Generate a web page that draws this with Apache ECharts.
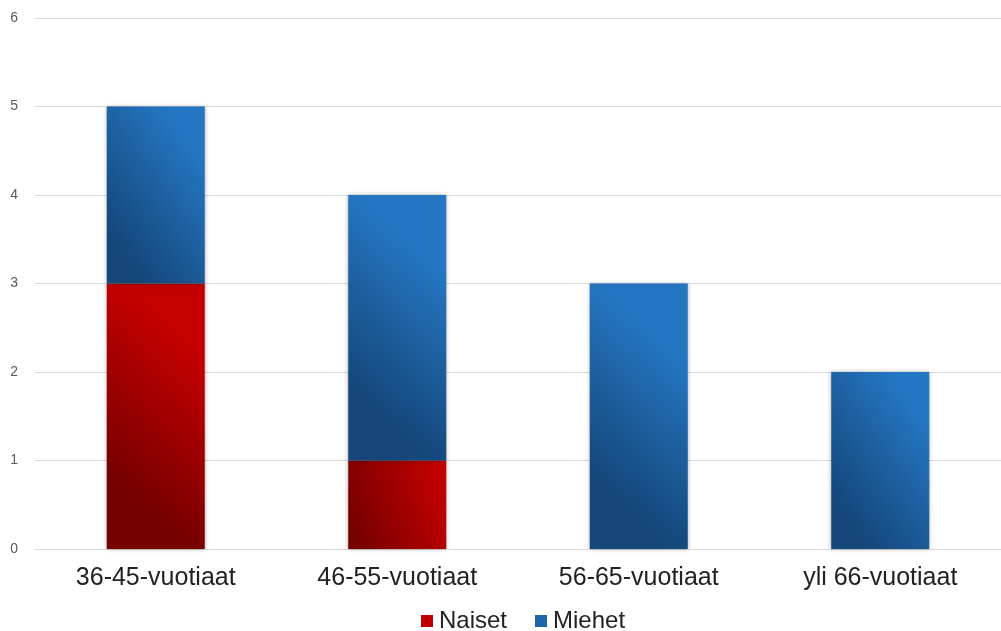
<!DOCTYPE html>
<html>
<head>
<meta charset="utf-8">
<script src="https://cdn.jsdelivr.net/npm/echarts@6/dist/echarts.min.js"></script>
<style>
  html, body { margin: 0; padding: 0; background: #fff; }
  #chart { width: 1001px; height: 631px; }
</style>
</head>
<body>
<div id="chart"></div>
<script>
const categories = ['36-45-vuotiaat', '46-55-vuotiaat', '56-65-vuotiaat', 'yli 66-vuotiaat']
const naiset = [3, 1, 0, 0]
const miehet = [2, 3, 3, 2]
const yTicks = [0, 1, 2, 3, 4, 5, 6]

const font = "'Liberation Sans', Arial, sans-serif"

// mostly left-to-right shading, a bit darker at the bottom
const diag = (from, to) => new echarts.graphic.LinearGradient(0, 0.7, 1, 0.3, [
  { offset: 0, color: from },
  { offset: 1, color: to },
])

const chart = echarts.init(document.getElementById('chart'))
chart.setOption({
  animation: false,
  grid: { left: 35, top: 18, width: 968, height: 531 },
  xAxis: {
    type: 'category',
    data: categories,
    axisTick: { show: false },
    axisLine: { lineStyle: { color: '#d9d9d9' } },
    axisLabel: { color: '#222', fontSize: 25, fontFamily: font, margin: 17 },
  },
  yAxis: {
    type: 'value',
    min: yTicks[0],
    max: yTicks[yTicks.length - 1],
    interval: 1,
    axisLine: { show: false },
    axisLabel: { color: '#595959', fontSize: 14, fontFamily: font, margin: 17 },
    splitLine: { lineStyle: { color: '#d9d9d9' } },
  },
  legend: {
    top: 609,
    left: 421,
    padding: 0,
    itemWidth: 12,
    itemHeight: 12,
    itemGap: 28,
    icon: 'rect',
    textStyle: { color: '#222', fontSize: 24, fontFamily: font, padding: [0, 0, 0, 1] },
    data: [
      { name: 'Naiset', itemStyle: { color: '#c00000' } },
      { name: 'Miehet', itemStyle: { color: '#1f65a8' } },
    ],
  },
  series: [
    {
      name: 'Naiset',
      type: 'bar',
      stack: 'total',
      barWidth: 98,
      data: naiset,
      itemStyle: {
        color: diag('#760000', '#c40000'),
        shadowBlur: 4,
        shadowColor: 'rgba(0,0,0,0.35)',
      },
    },
    {
      name: 'Miehet',
      type: 'bar',
      stack: 'total',
      barWidth: 98,
      data: miehet,
      itemStyle: {
        color: diag('#15477a', '#2476c2'),
        shadowBlur: 4,
        shadowColor: 'rgba(0,0,0,0.35)',
      },
    },
  ],
})
</script>
</body>
</html>
